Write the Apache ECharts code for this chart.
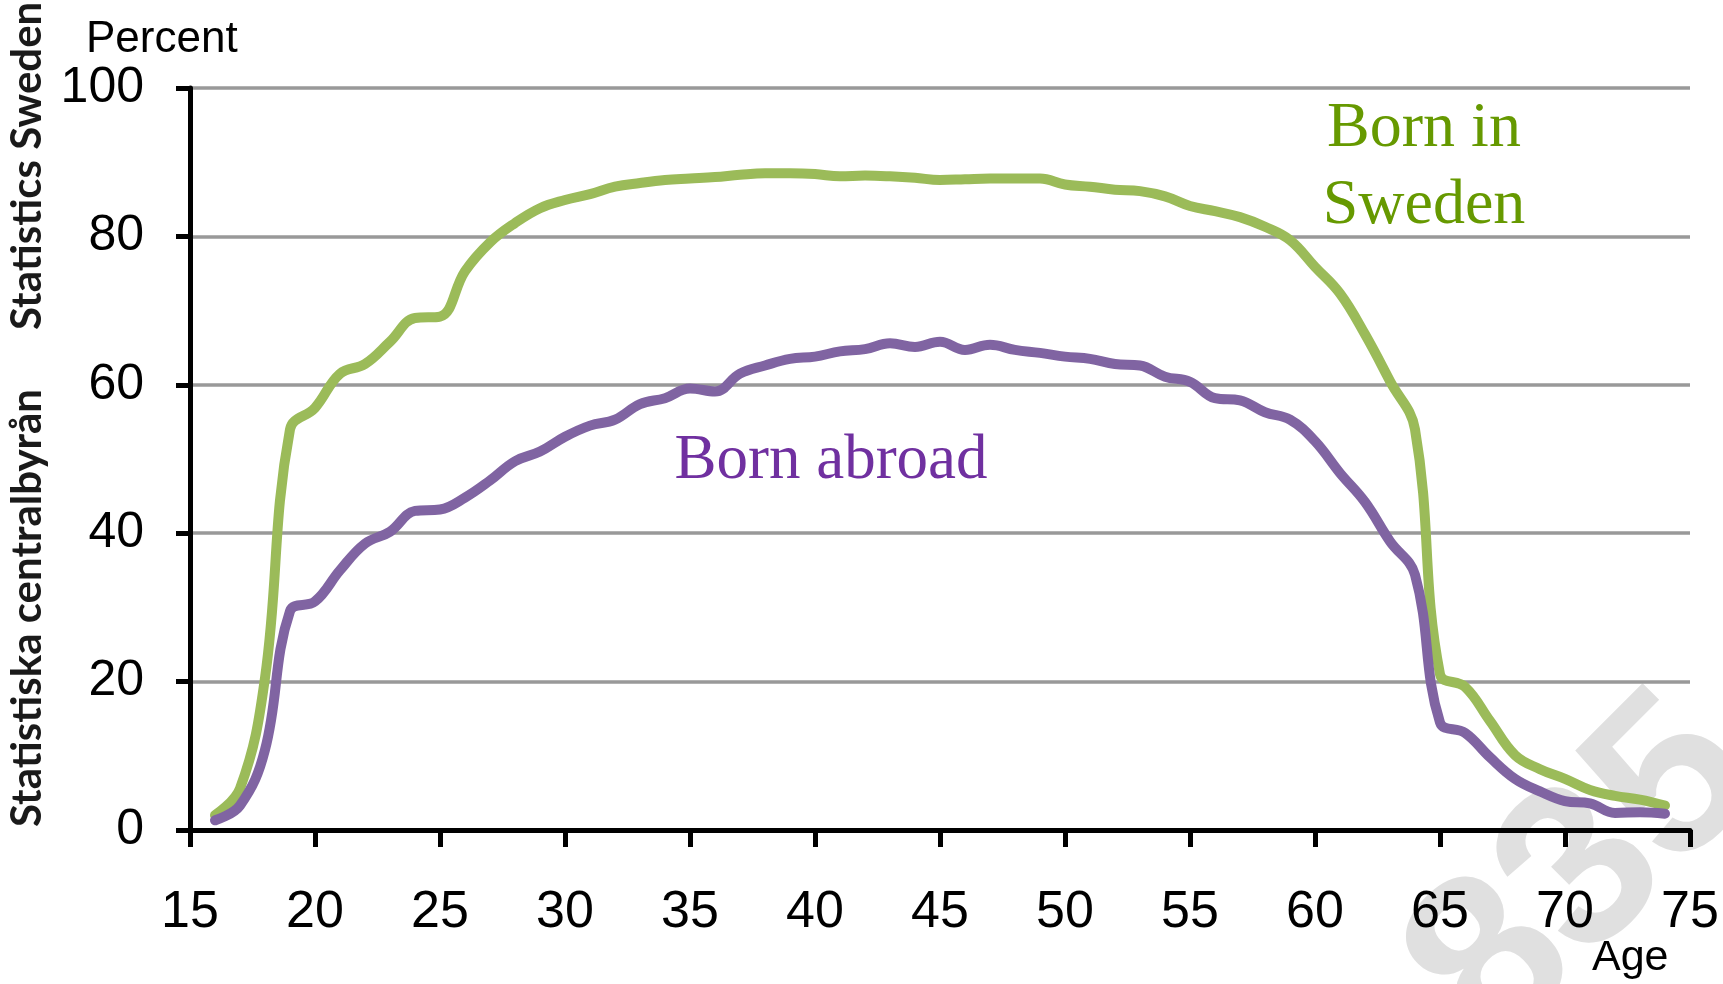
<!DOCTYPE html>
<html>
<head>
<meta charset="utf-8">
<title>Employment rate by age</title>
<script src="https://cdn.jsdelivr.net/npm/echarts@6/dist/echarts.min.js"></script>
<style>
  html, body { margin: 0; padding: 0; background: #fff; }
  #chart { width: 1723px; height: 984px; }
</style>
</head>
<body>
<div id="chart"></div>
<script>
// ages 16..74, one value per year
var ages = [16, 17, 18, 19, 20, 21, 22, 23, 24, 25, 26, 27, 28, 29, 30,
    31, 32, 33, 34, 35, 36, 37, 38, 39, 40, 41, 42, 43, 44, 45,
    46, 47, 48, 49, 50, 51, 52, 53, 54, 55, 56, 57, 58, 59, 60,
    61, 62, 63, 64, 65, 66, 67, 68, 69, 70, 71, 72, 73, 74];

var bornInSweden = [2.0, 5.6, 20.5, 54.0, 56.9, 61.5, 62.8, 65.8, 69.0, 69.2, 75.3, 79.2, 81.8, 83.8, 84.9,
    85.7, 86.7, 87.2, 87.6, 87.8, 88.0, 88.3, 88.5, 88.5, 88.4, 88.1, 88.2, 88.1, 87.9, 87.6,
    87.7, 87.8, 87.8, 87.8, 87.0, 86.7, 86.3, 86.1, 85.4, 84.1, 83.4, 82.6, 81.3, 79.5, 75.9,
    72.3, 66.8, 60.5, 54.0, 21.0, 19.3, 14.7, 10.1, 8.2, 6.9, 5.4, 4.6, 4.1, 3.3];

var bornAbroad = [1.3, 3.3, 10.8, 29.5, 30.8, 35.0, 38.6, 40.2, 43.0, 43.2, 44.8, 47.1, 49.7, 51.0, 53.0,
    54.5, 55.3, 57.4, 58.2, 59.5, 59.1, 61.5, 62.6, 63.5, 63.8, 64.5, 64.8, 65.6, 65.1, 65.8,
    64.7, 65.4, 64.7, 64.3, 63.8, 63.5, 62.8, 62.6, 61.1, 60.4, 58.2, 57.9, 56.3, 55.3, 52.4,
    48.1, 44.2, 38.9, 34.4, 14.5, 13.1, 9.8, 6.9, 5.2, 3.9, 3.6, 2.3, 2.4, 2.2];

var greenLine = '#9bbb59';
var purpleLine = '#8064a2';

function pairs(xs, ys) {
    var out = [];
    for (var i = 0; i < xs.length; i++) {
        out.push([xs[i], ys[i]]);
    }
    return out;
}

var myChart = echarts.init(document.getElementById('chart'));

var sans = '"Liberation Sans", Arial, sans-serif';
var serif = '"Liberation Serif", "Times New Roman", serif';

var option = {
    backgroundColor: '#fff',
    animation: false,
    grid: {
        left: 190,
        right: 33,
        top: 88,
        bottom: 154
    },
    xAxis: {
        type: 'value',
        min: 15,
        max: 75,
        interval: 5,
        axisLine: { show: true, lineStyle: { color: '#000', width: 5 } },
        axisTick: { show: true, length: 17, lineStyle: { color: '#000', width: 5 } },
        axisLabel: { color: '#000', fontSize: 52, fontFamily: sans, margin: 57 },
        splitLine: { show: false }
    },
    yAxis: {
        type: 'value',
        min: 0,
        max: 100,
        interval: 20,
        axisLine: { show: true, lineStyle: { color: '#000', width: 5 } },
        axisTick: { show: true, length: 14, lineStyle: { color: '#000', width: 5 } },
        axisLabel: { color: '#000', fontSize: 50, fontFamily: sans, margin: 46, padding: [14, 0, 0, 0] },
        splitLine: { show: true, lineStyle: { color: '#999', width: 3.5 } }
    },
    graphic: [
        // faint logo watermark, bottom right
        {
            type: 'text', z: -10, x: 1585, y: 875, rotation: Math.PI / 4,
            style: { text: '835', font: 'bold 230px ' + sans, fill: '#e0e0e0', textAlign: 'center', textVerticalAlign: 'middle' }
        },
        {
            type: 'text', x: 86, y: 40,
            style: { text: 'Percent', font: '44px ' + sans, fill: '#000', textAlign: 'left', textVerticalAlign: 'middle' }
        },
        {
            type: 'text', x: 1592, y: 958,
            style: { text: 'Age', font: '43px ' + sans, fill: '#000', textAlign: 'left', textVerticalAlign: 'middle' }
        },
        {
            type: 'text', x: 27, y: 330, rotation: Math.PI / 2,
            style: { text: 'Statistics Sweden', font: 'bold 42px Lato, sans-serif', fill: '#1a1a1a', textAlign: 'left', textVerticalAlign: 'middle' }
        },
        {
            type: 'text', x: 27, y: 827, rotation: Math.PI / 2,
            style: { text: 'Statistiska centralbyrån', font: 'bold 42px Lato, sans-serif', fill: '#1a1a1a', textAlign: 'left', textVerticalAlign: 'middle' }
        },
        {
            type: 'text', x: 1424, y: 129,
            style: { text: 'Born in', font: '64px ' + serif, fill: '#669900', textAlign: 'center', textVerticalAlign: 'middle' }
        },
        {
            type: 'text', x: 1424, y: 206,
            style: { text: 'Sweden', font: '64px ' + serif, fill: '#669900', textAlign: 'center', textVerticalAlign: 'middle' }
        },
        {
            type: 'text', x: 831, y: 461,
            style: { text: 'Born abroad', font: '63px ' + serif, fill: '#7030a0', textAlign: 'center', textVerticalAlign: 'middle' }
        }
    ],
    series: [
        {
            name: 'Born in Sweden',
            type: 'line',
            smooth: 0.4,
            symbol: 'none',
            lineStyle: { color: greenLine, width: 10, cap: 'round', join: 'round' },
            data: pairs(ages, bornInSweden)
        },
        {
            name: 'Born abroad',
            type: 'line',
            smooth: 0.4,
            symbol: 'none',
            lineStyle: { color: purpleLine, width: 10, cap: 'round', join: 'round' },
            data: pairs(ages, bornAbroad)
        }
    ]
};
myChart.setOption(option);
</script>
</body>
</html>
